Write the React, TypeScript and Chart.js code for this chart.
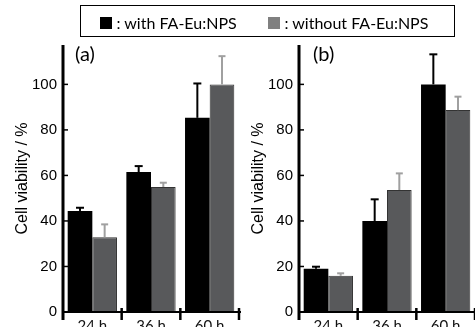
import React, { useEffect, useRef } from "react";
import { Chart, registerables } from "chart.js";
Chart.register(...registerables);

const categories = ["24 h", "36 h", "60 h"];
const seriesNames = ["with FA-Eu:NPS", "without FA-Eu:NPS"];
const yTitle = "Cell viability / %";

// panel (a)
const aWith = [44.4, 61.5, 85.3];
const aWithErr = [1.4, 2.6, 15.1];
const aWithout = [32.8, 54.9, 100];
const aWithoutErr = [5.7, 1.9, 12.4];

// panel (b)
const bWith = [19.0, 40.0, 100];
const bWithErr = [0.9, 9.5, 13.2];
const bWithout = [15.9, 53.6, 88.7];
const bWithoutErr = [1.1, 7.3, 5.9];

const yMax = 117.3;
const yStep = 20;

const BAR_COLORS = ["#000000", "#58595b"];
const ERR_COLORS = ["#000000", "#a0a0a0"];
const SANS = "'Liberation Sans', Arial, sans-serif";

function makeDecor(errs: number[][]) {
  return {
    id: "decor",
    afterDatasetsDraw(chart: any) {
      const { ctx, chartArea, scales } = chart;
      const xs = scales.x;
      const ys = scales.y;
      ctx.save();
      // error bars (upper only)
      chart.data.datasets.forEach((ds: any, i: number) => {
        const meta = chart.getDatasetMeta(i);
        meta.data.forEach((el: any, j: number) => {
          const v = ds.data[j];
          const e = errs[i][j];
          const yTop = ys.getPixelForValue(v + e);
          ctx.strokeStyle = ERR_COLORS[i];
          ctx.lineWidth = 2;
          ctx.beginPath();
          ctx.moveTo(el.x, el.y);
          ctx.lineTo(el.x, yTop);
          ctx.stroke();
          const half = i === 0 ? 4 : 3.5;
          ctx.beginPath();
          ctx.moveTo(el.x - half, yTop);
          ctx.lineTo(el.x + half, yTop);
          ctx.stroke();
        });
      });
      // x axis line
      ctx.strokeStyle = "#000";
      ctx.lineWidth = 2;
      ctx.beginPath();
      ctx.moveTo(chartArea.left, chartArea.bottom);
      ctx.lineTo(chartArea.right + 2, chartArea.bottom);
      ctx.stroke();
      // category dividers
      ctx.lineWidth = 2.5;
      for (let i = 0; i < categories.length; i++) {
        const px = xs.getPixelForValue(i + 0.5);
        ctx.beginPath();
        ctx.moveTo(px, chartArea.bottom - 4);
        ctx.lineTo(px, chartArea.bottom + 8);
        ctx.stroke();
      }
      // y axis line
      ctx.lineWidth = 3;
      ctx.beginPath();
      ctx.moveTo(chartArea.left, chartArea.top);
      ctx.lineTo(chartArea.left, chartArea.bottom + 8);
      ctx.stroke();
      // inward y tick marks
      ctx.lineWidth = 1.5;
      ys.ticks.forEach((t: any) => {
        if (t.value === 0) return;
        const py = ys.getPixelForValue(t.value);
        ctx.beginPath();
        ctx.moveTo(chartArea.left, py);
        ctx.lineTo(chartArea.left + 5, py);
        ctx.stroke();
      });
      ctx.restore();
    },
  };
}

function Panel({ withVals, withErr, withoutVals, withoutErr, left }: any) {
  const ref = useRef<HTMLCanvasElement>(null);
  useEffect(() => {
    if (!ref.current) return;
    const chart = new Chart(ref.current, {
      type: "bar",
      data: {
        labels: categories,
        datasets: [
          {
            label: seriesNames[0],
            data: withVals,
            backgroundColor: BAR_COLORS[0],
            borderWidth: 0,
            barPercentage: 1,
            categoryPercentage: 0.84,
          },
          {
            label: seriesNames[1],
            data: withoutVals,
            backgroundColor: BAR_COLORS[1],
            borderColor: "#333333",
            borderWidth: 1,
            barPercentage: 1,
            categoryPercentage: 0.84,
          },
        ],
      },
      options: {
        animation: false,
        responsive: false,
        layout: { padding: { top: 45, right: 11, left: 0, bottom: 0 } },
        plugins: { legend: { display: false }, tooltip: { enabled: false } },
        scales: {
          x: {
            grid: { display: false },
            border: { display: false },
            afterFit: (s: any) => {
              s.height = 15;
            },
            ticks: {
              color: "#111",
              font: { family: "Lato", size: 15 },
              padding: -3,
              maxRotation: 0,
              autoSkip: false,
            },
          },
          y: {
            min: 0,
            max: yMax,
            grid: { display: false, drawTicks: false },
            border: { display: false },
            afterFit: (s: any) => {
              s.width = 63;
            },
            ticks: {
              stepSize: yStep,
              includeBounds: false,
              color: "#000",
              font: { family: SANS, size: 15 },
              padding: 6,
            },
            title: {
              display: true,
              text: yTitle,
              color: "#000",
              font: { family: SANS, size: 16 },
              padding: { top: 13, bottom: 0 },
            },
          },
        },
      },
      plugins: [makeDecor([withErr, withoutErr])],
    });
    return () => chart.destroy();
  }, []);
  return (
    <canvas
      ref={ref}
      width={250}
      height={327}
      style={{ position: "absolute", left, top: 0, width: 250, height: 327 }}
    />
  );
}

export default function App() {
  const labelFont = "Lato, 'Open Sans', sans-serif";
  return (
    <div
      style={{
        position: "fixed",
        left: 0,
        top: 0,
        width: 475,
        height: 327,
        overflow: "hidden",
        background: "#fff",
      }}
    >
      <Panel withVals={aWith} withErr={aWithErr} withoutVals={aWithout} withoutErr={aWithoutErr} left={0} />
      <Panel withVals={bWith} withErr={bWithErr} withoutVals={bWithout} withoutErr={bWithoutErr} left={236} />
      <span style={{ position: "absolute", left: 75, top: 43, fontFamily: labelFont, fontSize: 20, lineHeight: "20px", color: "#000" }}>(a)</span>
      <span style={{ position: "absolute", left: 313, top: 43, fontFamily: labelFont, fontSize: 20, lineHeight: "20px", color: "#000" }}>(b)</span>
      <div
        style={{
          position: "absolute",
          left: 80,
          top: 5,
          width: 375,
          height: 32,
          border: "1.5px solid #000",
          boxSizing: "border-box",
          background: "#fff",
          fontFamily: labelFont,
          fontSize: 16,
          color: "#000",
        }}
      >
        <div style={{ position: "absolute", left: 18.5, top: 11, width: 12, height: 12, background: "#000" }} />
        <span style={{ position: "absolute", left: 35.5, top: 8.5, lineHeight: "16px", whiteSpace: "nowrap" }}>: {seriesNames[0]}</span>
        <div style={{ position: "absolute", left: 186.5, top: 11, width: 12, height: 12, background: "#808080" }} />
        <span style={{ position: "absolute", left: 203.5, top: 8.5, lineHeight: "16px", whiteSpace: "nowrap" }}>: {seriesNames[1]}</span>
      </div>
    </div>
  );
}
